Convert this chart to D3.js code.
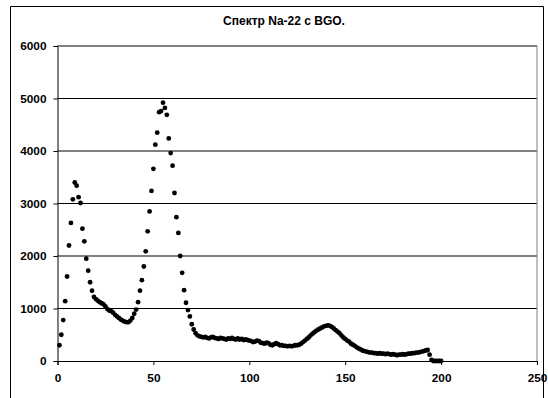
<!DOCTYPE html>
<html>
<head>
<meta charset="utf-8">
<script src="https://cdn.jsdelivr.net/npm/d3@7"></script>
<style>
html,body{margin:0;padding:0;background:#fff;}
svg{display:block;}
text{font-family:"Liberation Sans",Arial,sans-serif;font-weight:bold;}
</style>
</head>
<body>
<svg id="chart" width="548" height="398"></svg>
<script>
// Data
const title = "Спектр Na-22 с BGO.";
const counts = [
  300, 500, 780, 1140, 1610, 2200, 2630, 3080, 3400, 3340,
  3120, 3010, 2520, 2280, 1950, 1720, 1500, 1340, 1220, 1180,
  1150, 1120, 1100, 1080, 1040, 990, 960, 950, 920, 880,
  850, 820, 790, 770, 750, 740, 740, 770, 820, 900,
  980, 1120, 1340, 1540, 1800, 2090, 2470, 2850, 3240, 3660,
  4120, 4350, 4740, 4760, 4920, 4820, 4690, 4240, 3960, 3720,
  3200, 2740, 2440, 2000, 1680, 1350, 1110, 970, 850, 700,
  600, 530, 490, 470, 460, 450, 460, 440, 430, 450,
  460, 440, 430, 420, 440, 430, 420, 410, 430, 420,
  440, 420, 410, 430, 410, 420, 400, 410, 400, 390,
  380, 360, 370, 390, 380, 350, 340, 330, 350, 340,
  310, 300, 320, 340, 320, 300, 300, 290, 290, 280,
  290, 280, 290, 300, 300, 310, 330, 360, 390, 420,
  450, 490, 520, 550, 580, 600, 620, 640, 660, 670,
  680, 670, 650, 620, 590, 560, 530, 490, 450, 420,
  390, 370, 330, 310, 290, 260, 240, 220, 200, 190,
  180, 170, 160, 160, 150, 150, 140, 150, 140, 140,
  130, 140, 130, 120, 130, 120, 110, 120, 120, 130,
  120, 130, 140, 140, 150, 150, 160, 160, 170, 180,
  190, 200, 210, 120, 20, 0, 0, 0, 0, 0
];
const channels = counts.map((_, i) => i + 1);
const xTicks = [0, 50, 100, 150, 200, 250];
const yTicks = [0, 1000, 2000, 3000, 4000, 5000, 6000];

(function () {
const svg = d3.select("#chart");

// outer chart frame
svg.append("path")
  .attr("d", "M10.5,400 V6.5 H543.5 V400")
  .attr("fill", "none").attr("stroke", "#000").attr("stroke-width", 1);

const pl = 57.5, pr = 537, pt = 46, pb = 361;
const x = d3.scaleLinear().domain([0, 250]).range([pl, pr]);
const y = d3.scaleLinear().domain([0, 6000]).range([pb, pt]);

// gridlines
svg.append("g").selectAll("line").data(yTicks.filter(d => d > 0)).join("line")
  .attr("x1", pl).attr("x2", pr)
  .attr("y1", d => y(d)).attr("y2", d => y(d))
  .attr("stroke", "#000").attr("stroke-width", 1);

// right border of plot area
svg.append("line")
  .attr("x1", pr).attr("x2", pr).attr("y1", pt).attr("y2", pb)
  .attr("stroke", "#808080").attr("stroke-width", 1);

// axes
const yAxis = svg.append("g").attr("transform", `translate(${pl},0)`)
  .call(d3.axisLeft(y).tickValues(yTicks).tickSize(4).tickPadding(7).tickFormat(d3.format("d")));
const xAxis = svg.append("g").attr("transform", `translate(0,${pb})`)
  .call(d3.axisBottom(x).tickValues(xTicks).tickSize(4).tickPadding(9).tickFormat(d3.format("d")));
[xAxis, yAxis].forEach(g => {
  g.select(".domain").attr("stroke", "#000");
  g.selectAll(".tick line").attr("stroke", "#000");
  g.selectAll("text").attr("font-size", 11.8).attr("font-family", "'Liberation Sans',Arial,sans-serif")
    .attr("font-weight", "bold").attr("fill", "#000");
});

// dots
svg.append("g").selectAll("circle").data(channels).join("circle")
  .attr("cx", d => x(d)).attr("cy", (d, i) => y(counts[i]))
  .attr("r", 2.4).attr("fill", "#000");

// title
svg.append("text").attr("x", 284).attr("y", 25).attr("text-anchor", "middle")
  .attr("font-size", 12).text(title);
})();
</script>
</body>
</html>
